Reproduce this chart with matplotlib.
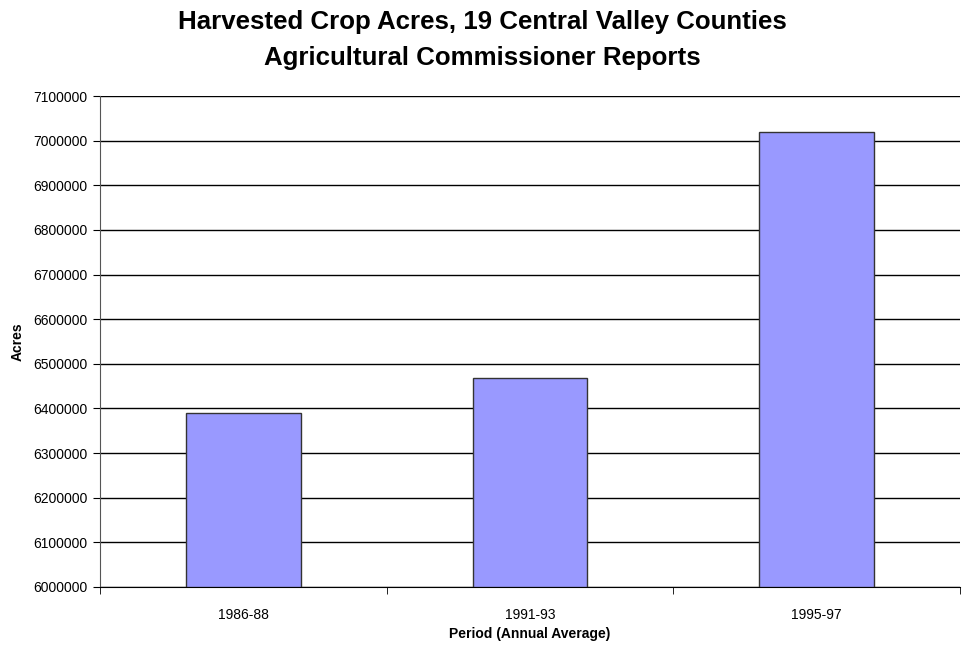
import matplotlib
matplotlib.use("Agg")
import matplotlib.pyplot as plt
import numpy as np

periods = ["1986-88", "1991-93", "1995-97"]
acres = [6390000, 6468000, 7020000]
yticks = list(range(6000000, 7100001, 100000))

plt.rcParams["font.family"] = ["Liberation Sans", "DejaVu Sans"]

fig = plt.figure(figsize=(9.64, 6.49), dpi=100)
ax = fig.add_axes([100 / 964, 1 - 587 / 649, 860 / 964, 491 / 649])

x = np.arange(len(periods))
ax.set_axisbelow(True)
ax.bar(x, [a - 6000000 for a in acres], bottom=6000000, width=0.4,
       color="#9999ff", edgecolor="#333333", linewidth=1.0, zorder=3)

ax.set_xlim(-0.5, len(periods) - 0.5)
ax.set_ylim(6000000, 7100000)
ax.set_yticks(yticks)
ax.set_yticklabels([str(v) for v in yticks], fontsize=10)
ax.yaxis.grid(True, color="black", linewidth=1.0)

ax.set_xticks(x)
ax.set_xticklabels(periods, fontsize=10)
ax.tick_params(axis="x", which="major", length=0, pad=15)
ax.set_xticks(np.arange(-0.5, len(periods)), minor=True)
ax.tick_params(axis="x", which="minor", length=5, direction="out", color="black")
ax.tick_params(axis="y", length=5, direction="out", color="black", pad=4)

for side in ["top", "right"]:
    ax.spines[side].set_visible(False)
ax.spines["left"].set_color("#555555")
ax.spines["bottom"].set_color("black")

ax.set_xlabel("Period (Annual Average)", fontsize=10, fontweight="bold", labelpad=4)
ax.set_ylabel("Acres", fontsize=10, fontweight="bold", labelpad=6)

fig.text(0.5, 1 - 40 / 649,
         "Harvested Crop Acres, 19 Central Valley Counties\nAgricultural Commissioner Reports",
         ha="center", va="center", fontsize=18.6, fontweight="bold", linespacing=1.6)

fig.savefig("out.png", dpi=100)
